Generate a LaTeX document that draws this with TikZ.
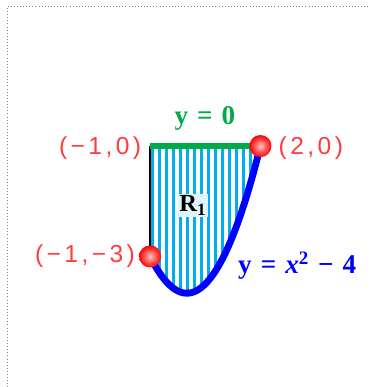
\documentclass[tikz,border=0pt]{standalone}
\usepackage{fontspec}
\setmainfont{Liberation Serif}
\newfontfamily\ptfont[LetterSpace=14]{Liberation Sans}
\definecolor{ptred}{RGB}{255,60,60}
\definecolor{lgreen}{RGB}{0,170,70}
\begin{document}
\begin{tikzpicture}[
    ptlabel/.style={text=ptred, font=\ptfont\fontsize{19}{19}\selectfont},
    eqlabel/.style={font=\bfseries\fontsize{21}{21}\selectfont},
    dot/.style={circle, inner sep=0pt, minimum size=0.6cm, shading=radial,
      inner color=red!25!white, outer color=red}
  ]
    \useasboundingbox (-5.08,-6.55) rectangle (4.97,3.97);
    % Frame
    \draw[gray, dotted] (-4.89,-6.55) -- (-4.89,3.81) -- (4.97,3.81);

    % Corners of the region
    \coordinate (tl) at (-1,0);
    \coordinate (tr) at (2,0);
    \coordinate (bl) at (-1,-3);

    % Striped region R1
    \begin{scope}
      \clip (tl) -- (tr) -- plot[domain=2:-1, samples=60] (\x,{\x*\x-4}) -- cycle;
      \foreach \s in {-0.93,-0.74,...,2.1} {
        \draw[cyan, line width=2.2pt] (\s,0.1) -- (\s,-4.1);
      }
    \end{scope}

    % Boundaries
    \draw[black, line width=1.8pt] (tl) -- (bl);
    \draw[lgreen, line width=4.5pt] (tl) -- (tr);
    \draw[blue, line width=5.3pt, line cap=round] plot[domain=-1:2, samples=60] (\x,{\x*\x-4});

    % Points
    \node[dot] (ptr) at (tr) {};
    \node[dot] (pbl) at (bl) {};

    % Labels
    \node[fill=cyan!12, inner sep=1pt, font=\bfseries\fontsize{19}{19}\selectfont] (r1) at (0.16,-1.62) {R\textsubscript{1}};
    \node[eqlabel, text=lgreen] (top) at (0.49,0.74) {y\,\,=\,\,0};
    \node[eqlabel, text=blue] (curve) at (3.0,-3.25) {y\,\,=\,\,\textit{x}\textsuperscript{2}\,\,−\,\,4};
    \node[ptlabel] (ltl) at (-2.36,-0.05) {(−1,0)};
    \node[ptlabel] (ltr) at (3.37,-0.05) {(2,0)};
    \node[ptlabel] (lbl) at (-2.77,-3.0) {(−1,−3)};
\end{tikzpicture}
\end{document}
